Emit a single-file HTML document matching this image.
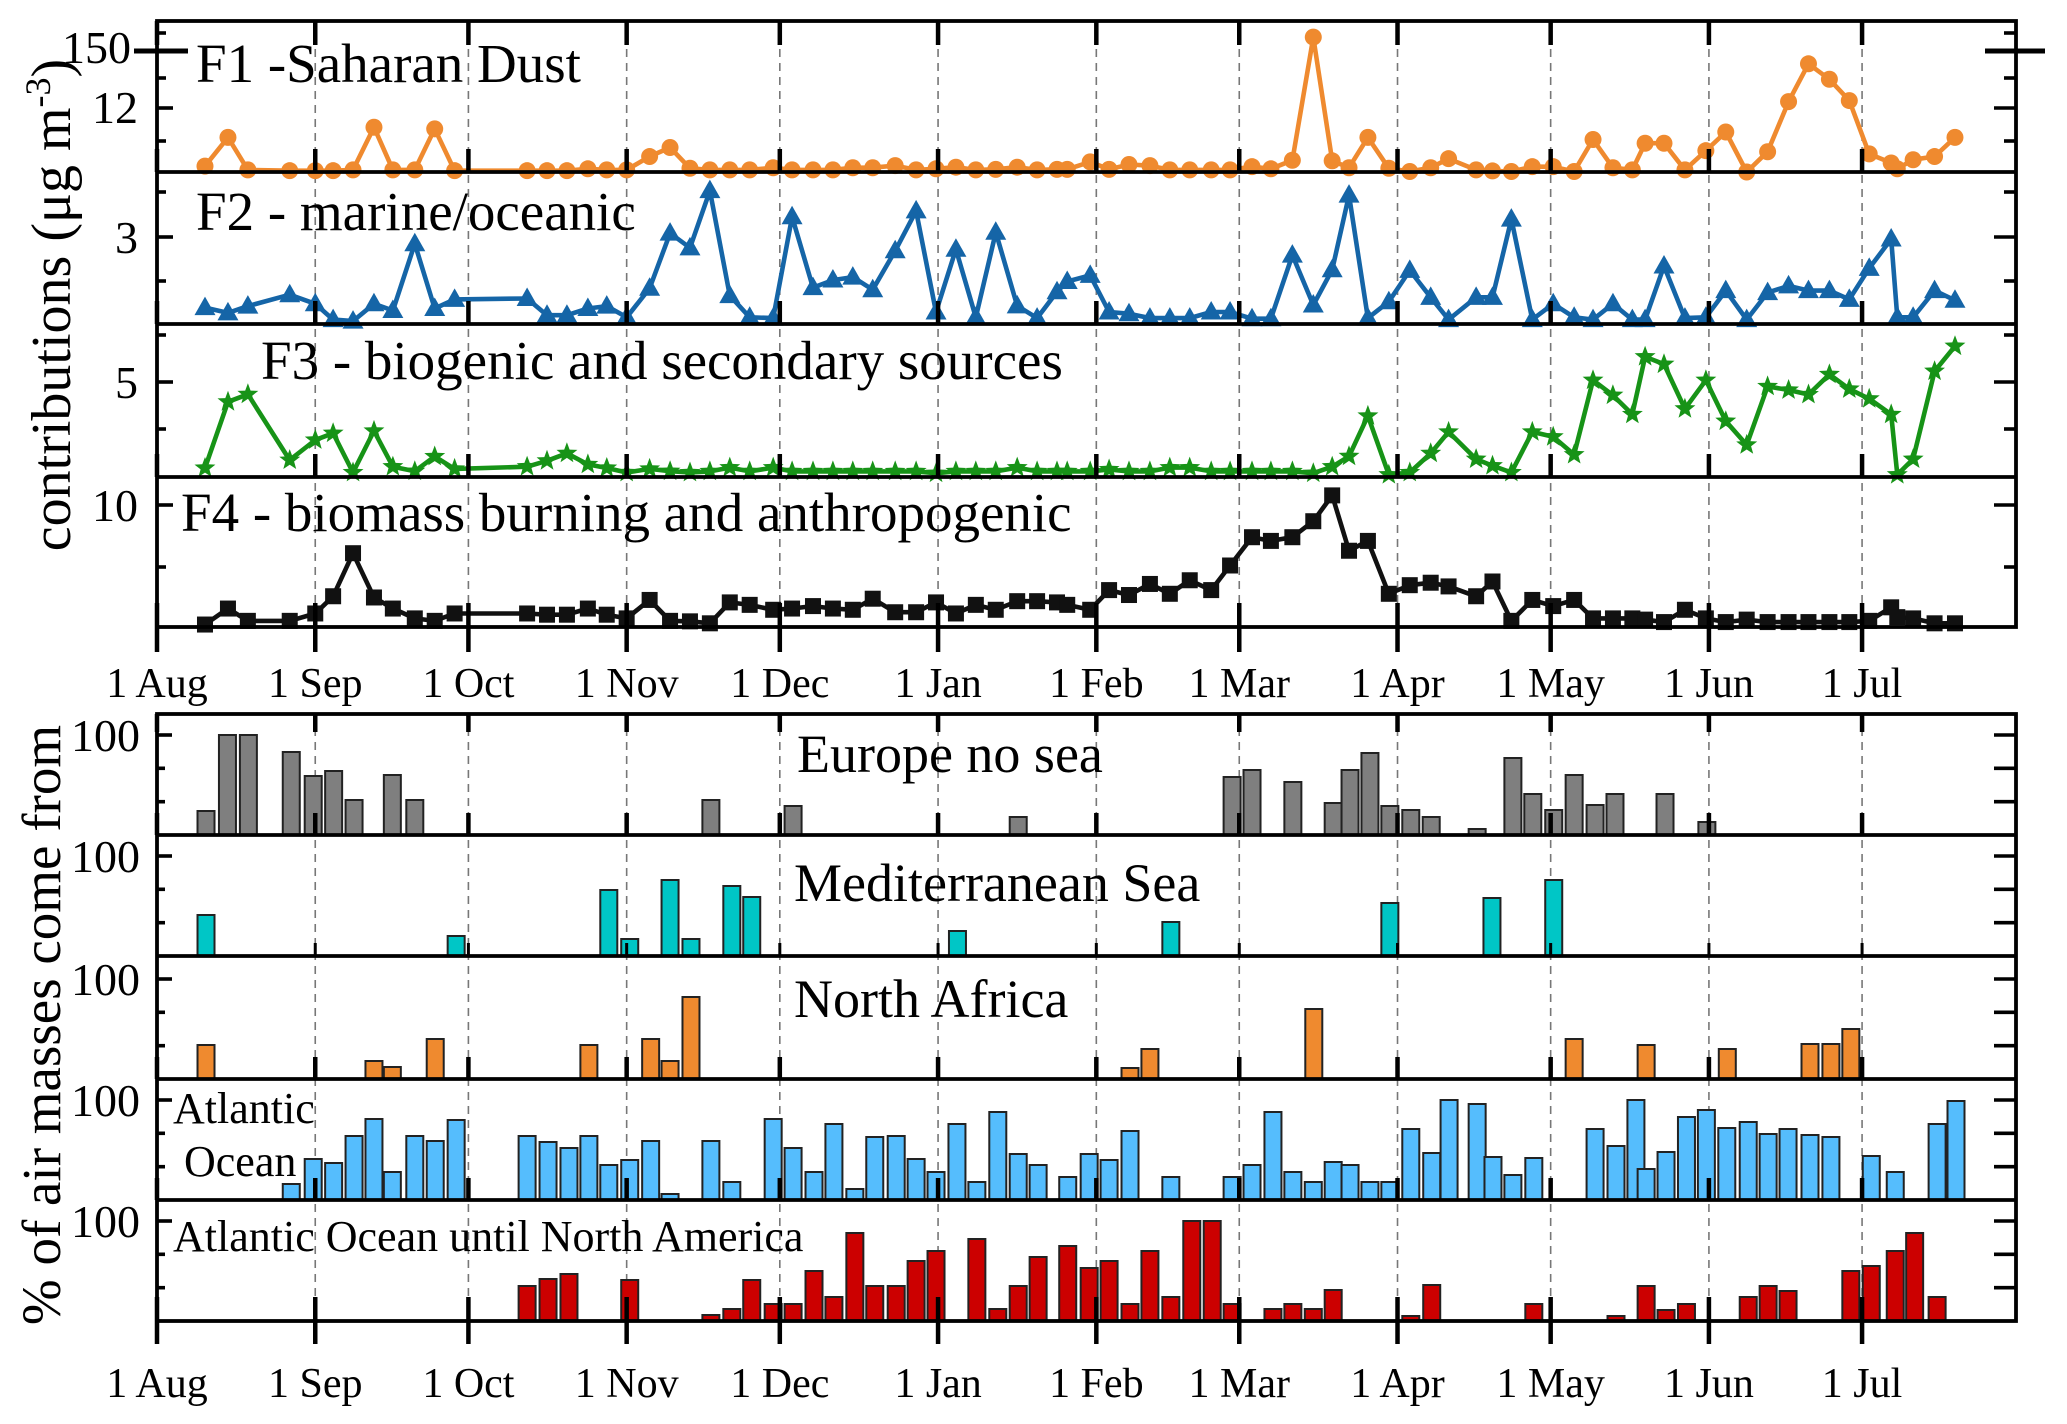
<!DOCTYPE html>
<html><head><meta charset="utf-8"><style>
html,body{margin:0;padding:0;background:#fff;}
svg{display:block;font-family:"Liberation Serif",serif;}
</style></head><body>
<svg id="chart" width="2067" height="1424" viewBox="0 0 2067 1424" xmlns="http://www.w3.org/2000/svg">
<rect x="0" y="0" width="2067" height="1424" fill="#fff"/>
<g id="grid"></g><g id="marks"></g><g id="axes"></g><g id="labels"></g>
</svg>
<script>
// ---------- data ----------
const monthLabels=["1 Aug","1 Sep","1 Oct","1 Nov","1 Dec","1 Jan","1 Feb","1 Mar","1 Apr","1 May","1 Jun","1 Jul"];
const monthDays=[0,31,61,92,122,153,184,212,243,273,304,334];
const sampleDays=[9.4,13.9,17.8,26,31,34.5,38.4,42.5,46.2,50.5,54.4,58.3,72.5,76.4,80.3,84.4,88.1,92,96.5,100.5,104.4,108.3,112.2,116.1,120.7,124.4,128.5,132.4,136.3,140.2,144.6,148.7,152.6,156.5,160.4,164.3,168.5,172.4,176.3,178.3,182.8,186.5,190.4,194.5,198.4,202.3,206.5,210.2,214.5,218.2,222.4,226.5,230.2,233.5,237.2,241.3,245.4,249.5,253,258.4,261.6,265.3,269.4,273.5,277.6,281.3,285.2,289,291.5,295.2,299.3,303.4,307.3,311.4,315.5,319.6,323.5,327.6,331.5,335.4,339.7,340.9,344,348.2,352.2];
const f1Values=[1.1,6.5,0.4,0.25,0.25,0.25,0.4,8.4,0.4,0.4,8.1,0.25,0.25,0.25,0.25,0.6,0.4,0.4,2.9,4.6,0.7,0.4,0.4,0.4,0.8,0.4,0.4,0.4,0.8,0.8,1.2,0.4,0.6,0.9,0.4,0.5,0.9,0.4,0.5,0.5,1.9,0.5,1.4,1.2,0.4,0.4,0.4,0.4,1.0,0.6,2.2,25.3,2.1,0.8,6.5,0.7,0.1,0.8,2.5,0.4,0.2,0.1,1.0,1.0,0.1,6.1,0.8,0.4,5.4,5.4,0.4,4.0,7.5,0.0,3.8,13.2,20.3,17.4,13.4,3.4,1.7,0.6,2.3,2.9,6.5];
const f2Values=[0.56,0.38,0.61,1.0,0.69,0.15,0.1,0.69,0.46,2.74,0.53,0.84,0.87,0.3,0.3,0.53,0.61,0.23,1.22,3.1,2.6,4.55,0.97,0.23,0.2,3.66,1.24,1.5,1.6,1.17,2.5,3.86,0.41,2.55,0.23,3.13,0.62,0.2,1.1,1.45,1.66,0.41,0.35,0.2,0.2,0.2,0.41,0.41,0.18,0.18,2.35,0.65,1.85,4.4,0.2,0.76,1.83,0.91,0.15,0.91,0.91,3.58,0.15,0.69,0.23,0.15,0.69,0.15,0.15,1.98,0.2,0.23,1.14,0.15,1.07,1.3,1.14,1.14,0.84,1.9,2.9,0.23,0.23,1.14,0.81];
const f3Values=[0.48,4.0,4.4,0.9,1.97,2.33,0.24,2.45,0.55,0.31,1.09,0.43,0.55,0.86,1.26,0.67,0.48,0.24,0.43,0.31,0.24,0.3,0.5,0.3,0.5,0.3,0.3,0.3,0.3,0.3,0.3,0.3,0.2,0.3,0.3,0.3,0.5,0.3,0.3,0.3,0.3,0.4,0.3,0.3,0.5,0.5,0.3,0.3,0.3,0.3,0.3,0.2,0.55,1.1,3.25,0.12,0.24,1.26,2.4,0.95,0.6,0.24,2.4,2.14,1.19,5.15,4.35,3.33,6.4,6.0,3.63,5.15,2.97,1.71,4.82,4.63,4.39,5.46,4.68,4.16,3.33,0.12,0.95,5.63,6.96];
const f4Values=[0.2,1.5,0.5,0.5,1.1,2.5,6.0,2.4,1.5,0.7,0.5,1.1,1.1,1.0,1.0,1.5,1.0,0.7,2.2,0.5,0.46,0.3,2.0,1.8,1.4,1.5,1.7,1.5,1.4,2.3,1.2,1.2,2.0,1.1,1.8,1.4,2.1,2.1,2.0,1.8,1.4,3.0,2.6,3.5,2.7,3.8,3.0,5.0,7.3,7.0,7.3,8.6,10.7,6.2,7.0,2.7,3.4,3.6,3.3,2.5,3.7,0.5,2.2,1.7,2.2,0.7,0.7,0.7,0.6,0.4,1.4,0.7,0.4,0.6,0.4,0.4,0.4,0.4,0.4,0.5,1.6,0.8,0.7,0.3,0.3];
const europeDays=[9.6,13.8,17.9,26.3,30.6,34.6,38.6,46.1,50.5,108.5,124.6,168.7,210.6,214.5,222.5,230.4,233.7,237.6,241.5,245.6,249.6,258.6,265.6,269.5,273.6,277.6,281.7,285.6,295.4,303.6];
const europeValues=[24,100,100,83,59,64,35,60,35,35,29,18,58,65,53,32,65,82,29,25,18,6,77,41,25,60,30,41,41,13];
const medDays=[9.6,58.6,88.5,92.6,100.5,104.6,112.6,116.5,156.8,198.6,241.5,261.5,273.6];
const medValues=[41,20,66,17,76,17,70,59,25,34,53,58,76];
const africaDays=[9.6,42.5,46.1,54.5,84.6,96.7,100.5,104.6,190.6,194.5,226.6,277.6,291.7,307.6,323.8,327.9,331.8];
const africaValues=[34,18,12,40,34,40,18,82,11,30,70,40,34,30,35,35,50];
const atlanticDays=[26.3,30.6,34.6,38.6,42.5,46.1,50.5,54.5,58.6,72.5,76.6,80.7,84.6,88.5,92.6,96.7,100.5,108.5,112.6,120.7,124.6,128.7,132.6,136.7,140.6,144.8,148.7,152.6,156.7,160.6,164.7,168.7,172.6,178.4,182.6,186.5,190.6,198.6,210.6,214.5,218.6,222.5,226.5,230.4,233.7,237.6,241.5,245.6,249.7,253.1,258.6,261.7,265.6,269.7,281.7,285.8,289.7,291.7,295.6,299.6,303.5,307.5,311.7,315.6,319.5,323.8,327.9,335.8,340.5,348.7,352.4];
const atlanticValues=[16,41,37,64,81,28,64,59,80,64,58,52,64,35,40,59,6,59,18,81,52,28,76,11,63,64,41,28,76,18,88,46,35,23,46,40,69,23,23,35,88,28,18,38,35,18,18,71,47,100,96,43,25,42,71,54,100,31,48,83,90,72,78,66,71,65,63,44,28,76,99];
const americaDays=[72.5,76.6,80.7,92.6,108.5,112.6,116.5,120.7,124.6,128.7,132.6,136.7,140.6,144.8,148.7,152.6,160.6,164.7,168.7,172.6,178.4,182.6,186.5,190.6,194.5,198.6,202.7,206.7,210.6,218.6,222.5,226.5,230.4,245.6,249.7,269.7,285.8,291.7,295.6,299.6,311.7,315.6,319.5,331.8,335.8,340.5,344.3,348.7];
const americaValues=[35,42,47,41,6,12,41,17,17,50,24,88,35,35,60,70,82,12,35,64,75,53,60,17,70,24,100,100,17,12,17,12,31,5,36,17,5,35,11,17,24,35,30,50,55,70,88,24];

// ---------- geometry ----------
const NS="http://www.w3.org/2000/svg";
const X0=157,PXD=5.105,XR=2016;
function x(d){return X0+d*PXD;}
const upperPanels=[{top:21,bottom:172,ppu:5.33},{top:172,bottom:324,ppu:29.3},{top:324,bottom:477,ppu:18.8},{top:477,bottom:627,ppu:12.3}];
function yUp(p,v){return upperPanels[p].bottom-v*upperPanels[p].ppu;}
const lowerTops=[714,835,956,1079,1200,1321];
function yLow(p,v){return lowerTops[p+1]-v*1.0;}
function mk(tag,attrs,parent){const e=document.createElementNS(NS,tag);for(const k in attrs)e.setAttribute(k,attrs[k]);document.getElementById(parent).appendChild(e);return e;}

// grid
monthDays.forEach((d,i)=>{if(i===0)return;
 const g1=mk('line',{x1:x(d),x2:x(d),y1:21,y2:627,stroke:'#777','stroke-width':1.6,'stroke-dasharray':'8 6'},'grid');
 
 
 const g2=mk('line',{x1:x(d),x2:x(d),y1:714,y2:1321,stroke:'#777','stroke-width':1.6,'stroke-dasharray':'8 6'},'grid');
 
 
});

// upper series
const seriesCfg=[{vals:f1Values,color:'#EF8A2F',shape:'circle',name:'f1-saharan-dust'},{vals:f2Values,color:'#1565A7',shape:'triangle',name:'f2-marine'},{vals:f3Values,color:'#179317',shape:'star',name:'f3-biogenic'},{vals:f4Values,color:'#111111',shape:'square',name:'f4-biomass'}];
function starPts(cx,cy,R,r){let s=[];for(let k=0;k<10;k++){const a=-Math.PI/2+k*Math.PI/5;const rr=k%2?r:R;s.push((cx+rr*Math.cos(a)).toFixed(1)+','+(cy+rr*Math.sin(a)).toFixed(1));}return s.join(' ');}
seriesCfg.forEach((s,p)=>{
 const pts=sampleDays.map((d,i)=>x(d).toFixed(1)+','+yUp(p,s.vals[i]).toFixed(1)).join(' ');
 const ln=mk('polyline',{points:pts,fill:'none',stroke:s.color,'stroke-width':4.6,'stroke-linejoin':'round'},'marks');
 
 
 sampleDays.forEach((d,i)=>{
  const cx=x(d),cy=yUp(p,s.vals[i]);let m;
  if(s.shape==='circle')m=mk('circle',{cx:cx,cy:cy,r:8.5,fill:s.color},'marks');
  else if(s.shape==='triangle')m=mk('polygon',{points:`${cx},${cy-11} ${cx-10.5},${cy+7.5} ${cx+10.5},${cy+7.5}`,fill:s.color},'marks');
  else if(s.shape==='star')m=mk('polygon',{points:starPts(cx,cy,11,4.6),fill:s.color},'marks');
  else m=mk('rect',{x:cx-8,y:cy-8,width:16,height:16,fill:s.color},'marks');
  
  
 });
});

// lower bars
const barCfg=[{days:europeDays,vals:europeValues,color:'#7F7F7F',name:'europe-bar'},{days:medDays,vals:medValues,color:'#00C6C6',name:'mediterranean-bar'},{days:africaDays,vals:africaValues,color:'#EF8A2F',name:'north-africa-bar'},{days:atlanticDays,vals:atlanticValues,color:'#55BDFD',name:'atlantic-bar'},{days:americaDays,vals:americaValues,color:'#CC0000',name:'north-america-bar'}];
barCfg.forEach((b,p)=>{
 b.days.forEach((d,i)=>{
  const yt=yLow(p,b.vals[i]),yb=yLow(p,0);
  const r=mk('rect',{x:x(d)-8.5,y:yt,width:17,height:yb-yt,fill:b.color,stroke:'#222','stroke-width':2},'marks');
  
  
 });
});

// axes frames
function line(x1,y1,x2,y2,w,name){const l=mk('line',{x1:x1,y1:y1,x2:x2,y2:y2,stroke:'#000','stroke-width':w},'axes');
 
 return l;}
mk('rect',{x:X0,y:21,width:XR-X0,height:606,fill:'none',stroke:'#000','stroke-width':3.8},'axes');
[172,324,477].forEach(y=>line(X0,y,XR,y,3.8,'upper-panel-divider'));
mk('rect',{x:X0,y:714,width:XR-X0,height:607,fill:'none',stroke:'#000','stroke-width':3.8},'axes');
[835,956,1079,1200].forEach(y=>line(X0,y,XR,y,3.8,'lower-panel-divider'));
// month ticks
monthDays.forEach(d=>{const xx=x(d);
 line(xx,21,xx,45,4.5,'x-tick');
 [172,324,477].forEach(y=>line(xx,y-23,xx,y,4.5,'x-tick'));
 line(xx,603,xx,652,4.5,'x-tick');
 line(xx,714,xx,732,4.5,'x-tick');
 [835,1079,1200].forEach(y=>line(xx,y-22,xx,y,4.5,'x-tick'));
 line(xx,1297,xx,1344,4.5,'x-tick');
 line(xx,943,xx,956,3,'x-minor-tick');
});
// y ticks upper
const upMajor=[108,237,382,505],upMinor=[33,78,141,192,281,335,429,567];
upMajor.forEach(y=>{line(X0,y,X0+16,y,3.6,'y-tick');line(XR-22,y,XR,y,3.6,'y-tick');});
upMinor.forEach(y=>{line(X0,y,X0+9,y,3.6,'y-minor-tick');line(XR-12,y,XR,y,3.6,'y-minor-tick');});
line(134,51,188,51,5,'axis-break-left');line(1985,51,2045,51,5,'axis-break-right');
// y ticks lower
[0,1,2,3,4].forEach(p=>{const y100=yLow(p,100);
 line(X0,y100,X0+15,y100,3.6,'y-tick');line(XR-22,y100,XR,y100,3.6,'y-tick');
 [66.7,33.3].forEach(v=>{const yy=yLow(p,v);line(X0,yy,X0+8,yy,3.6,'y-minor-tick');line(XR-22,yy,XR,yy,3.6,'y-minor-tick');});
});

// labels
function txt(str,attrs,name){const t=mk('text',attrs,'labels');t.textContent=str;
 
 return t;}
monthLabels.forEach((m,i)=>{
 txt(m,{x:x(monthDays[i]),y:697,'font-size':42,'text-anchor':'middle'},'upper-x-tick-label');
 txt(m,{x:x(monthDays[i]),y:1397,'font-size':42,'text-anchor':'middle'},'lower-x-tick-label');
});
const upTickLabels=["150","12","3","5","10"],upTickY=[63,123,253,398,521],upTickX=[131,138,138,138,138];
upTickLabels.forEach((s,i)=>txt(s,{x:upTickX[i],y:upTickY[i],'font-size':46,'text-anchor':'end'},'upper-y-tick-label'));
[0,1,2,3,4].forEach(p=>txt('100',{x:140,y:yLow(p,100)+16,'font-size':46,'text-anchor':'end'},'lower-y-tick-label'));
txt('F1 -Saharan Dust',{x:196,y:82,'font-size':55},'f1-panel-title');
txt('F2 - marine/oceanic',{x:196,y:230,'font-size':55},'f2-panel-title');
txt('F3 - biogenic and secondary sources',{x:261,y:379,'font-size':55},'f3-panel-title');
txt('F4 - biomass burning and anthropogenic',{x:181,y:531,'font-size':55},'f4-panel-title');
txt('Europe no sea',{x:797,y:772,'font-size':54},'europe-panel-title');
txt('Mediterranean Sea',{x:794,y:901,'font-size':54},'mediterranean-panel-title');
txt('North Africa',{x:794,y:1017,'font-size':54},'north-africa-panel-title');
txt('Atlantic',{x:173,y:1123,'font-size':44},'atlantic-panel-title-line1');
txt('Ocean',{x:184,y:1176,'font-size':44},'atlantic-panel-title-line2');
txt('Atlantic Ocean until North America',{x:173,y:1251,'font-size':44},'north-america-panel-title');
const yt1=txt('',{transform:'translate(70,305) rotate(-90)','font-size':56,'text-anchor':'middle'},'upper-y-axis-title');
yt1.innerHTML='contributions (μg m<tspan dy="-20" font-size="36">-3</tspan><tspan dy="20">)</tspan>';
txt('% of air masses come from',{transform:'translate(60,1025) rotate(-90)','font-size':55,'text-anchor':'middle'},'lower-y-axis-title');
</script>
</body></html>
